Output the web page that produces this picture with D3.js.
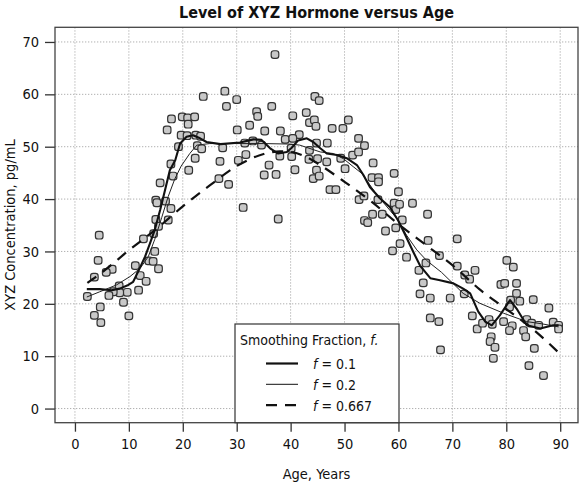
<!DOCTYPE html>
<html>
<head>
<meta charset="utf-8">
<script src="https://cdn.jsdelivr.net/npm/d3@7"></script>
<style>
body { margin: 0; background: #fff; }
text { font-family: 'Liberation Sans Narrow', 'DejaVu Sans Condensed', sans-serif; fill: #111; }
</style>
</head>
<body>
<div id="vis"></div>
<script>
var width = 580;
var height = 483;

// observed points (age, hormone level)
var ages = [23.8, 27.8, 28.1, 17.9, 19.9, 20.9, 22.2, 21.0, 17.1, 19.7, 20.8, 22.4, 23.3, 19.2, 22.7,
    23.5, 27.4, 22.3, 26.9, 17.8, 21.1, 37.1, 30.0, 33.7, 33.9, 36.5, 40.4, 42.9, 44.5, 45.3,
    43.5, 44.4, 44.7, 50.7, 47.7, 49.7, 30.1, 32.4, 35.2, 38.1, 41.6, 39.0, 40.4, 52.6, 53.7,
    46.8, 31.5, 33.0, 34.6, 40.1, 44.8, 38.0, 40.2, 31.7, 30.3, 43.5, 43.4, 45.0, 46.7, 49.3,
    51.5, 52.6, 55.3, 36.0, 50.1, 40.8, 18.2, 15.8, 26.7, 28.5, 15.0, 16.8, 15.2, 17.8, 17.3,
    15.0, 15.5, 14.6, 4.5, 12.7, 14.8, 4.3, 13.7, 14.5, 15.5, 6.9, 5.8, 3.6, 11.2, 12.1,
    13.2, 8.2, 11.8, 9.7, 8.3, 7.1, 6.3, 2.3, 9.0, 4.7, 3.6, 4.8, 10.0, 35.1, 37.3,
    44.8, 44.2, 45.3, 47.3, 48.4, 55.1, 56.3, 56.3, 59.2, 60.0, 31.2, 37.7, 52.7, 53.6, 56.2,
    59.2, 59.5, 55.2, 57.0, 53.7, 54.3, 59.5, 57.6, 60.3, 58.9, 60.2, 62.6, 65.4, 60.7, 70.9,
    65.5, 67.6, 61.5, 65.1, 70.9, 74.2, 63.8, 72.3, 73.2, 64.6, 80.1, 81.3, 79.0, 79.7, 81.9,
    64.0, 65.9, 69.6, 72.2, 81.9, 80.8, 82.5, 85.0, 87.9, 80.6, 65.9, 67.5, 73.7, 74.6, 75.6,
    76.8, 77.4, 79.5, 81.1, 80.6, 83.8, 83.2, 83.6, 84.7, 86.0, 88.7, 89.7, 89.7, 77.2, 77.0,
    77.9, 77.6, 85.2, 67.8, 84.2, 86.9];
var levels = [59.6, 60.6, 57.7, 55.3, 55.7, 55.5, 55.7, 54.3, 53.2, 52.2, 52.1, 52.2, 52.0, 50.0, 50.2,
    49.6, 49.8, 47.8, 47.2, 46.7, 45.5, 67.6, 59.0, 56.7, 55.8, 57.7, 55.9, 56.5, 59.6, 58.8,
    54.6, 55.1, 53.9, 55.1, 53.5, 53.5, 53.2, 54.1, 53.0, 53.0, 52.3, 51.4, 51.6, 51.6, 50.2,
    50.7, 50.7, 51.1, 50.3, 49.7, 50.7, 48.2, 48.1, 48.5, 47.4, 49.3, 47.6, 47.7, 47.1, 47.8,
    48.4, 49.0, 46.9, 46.5, 45.8, 45.6, 44.4, 43.1, 43.9, 42.8, 39.8, 39.6, 39.3, 38.2, 36.0,
    36.1, 34.8, 33.4, 33.1, 32.4, 30.0, 28.3, 28.2, 28.1, 26.7, 26.6, 26.0, 25.1, 27.3, 25.4,
    24.3, 23.4, 22.6, 22.2, 22.1, 22.3, 21.6, 21.4, 20.3, 19.4, 17.8, 16.4, 17.7, 44.6, 44.7,
    45.5, 43.9, 44.4, 41.8, 41.8, 44.1, 44.1, 43.3, 44.9, 41.4, 38.4, 36.2, 39.9, 40.6, 39.9,
    39.2, 38.0, 37.1, 37.1, 35.9, 35.5, 34.5, 33.9, 31.5, 30.1, 39.0, 39.2, 37.1, 36.0, 32.4,
    32.1, 29.2, 28.9, 27.8, 27.2, 26.4, 26.4, 25.5, 24.7, 24.0, 28.3, 27.0, 23.7, 23.9, 23.9,
    21.9, 21.1, 21.1, 21.9, 22.0, 20.7, 20.5, 20.8, 19.2, 19.4, 17.3, 16.6, 17.7, 15.2, 16.3,
    17.0, 16.1, 16.6, 15.8, 14.9, 17.0, 14.9, 13.7, 16.3, 15.9, 16.5, 15.9, 15.2, 13.7, 12.8,
    11.7, 9.6, 11.5, 11.2, 8.2, 6.3];

// smoothed curves
var f1_age = [2.2, 4.6, 6.8, 8.3, 9.9, 10.8, 11.7, 13.0, 13.9, 14.8, 15.8, 16.7, 17.6, 18.6, 19.5,
    20.7, 21.9, 23.2, 24.4, 27.0, 30.6, 33.1, 34.6, 36.2, 37.7, 39.3, 40.2, 41.4, 43.0, 44.2,
    45.5, 46.7, 48.6, 50.4, 52.3, 53.5, 54.7, 56.6, 58.4, 60.0, 61.2, 62.8, 64.0, 65.9, 67.7,
    70.2, 72.0, 73.3, 74.8, 76.1, 77.3, 78.8, 80.7, 81.9, 83.8, 86.3, 88.7, 89.7];
var f1_level = [22.8, 22.8, 22.6, 22.9, 23.6, 24.2, 26.1, 29.0, 31.5, 34.1, 37.9, 41.7, 45.5, 47.4, 50.6,
    51.9, 52.2, 51.6, 50.9, 50.5, 50.8, 51.4, 51.3, 49.7, 48.7, 49.0, 49.8, 51.2, 51.6, 50.9,
    49.7, 48.7, 48.4, 47.8, 46.5, 44.6, 42.3, 40.1, 38.5, 35.8, 33.3, 29.8, 27.3, 24.9, 24.5,
    23.9, 22.9, 22.0, 18.5, 16.6, 15.9, 17.8, 20.7, 19.1, 15.9, 15.3, 15.9, 15.9];

var f2_age = [2.2, 4.6, 7.7, 10.2, 12.1, 13.6, 14.8, 16.1, 17.3, 18.5, 19.7, 21.3, 22.6, 25, 30,
    35, 40, 41.7, 45.5, 47.9, 49.8, 51.6, 53.2, 56.0, 59.7, 61.5, 63.4, 65.2, 68, 72.0,
    75.1, 79.5, 83.8, 86.5, 89.7];
var f2_level = [21.3, 22.3, 23.6, 25.2, 26.8, 29.0, 32.3, 36.5, 40.5, 43.8, 46.3, 48.7, 50.3, 50.6, 50.6,
    50.6, 50.5, 50.3, 49.0, 48.7, 47.7, 46.2, 44.9, 40.8, 36.3, 33.1, 30.3, 28.3, 26.0, 22.0,
    20.1, 18.2, 16.6, 16.2, 15.6];

var f3_age = [2.3, 5, 10, 15, 20, 25, 30, 35, 38, 40, 43, 45, 50, 55, 60, 65, 70, 75, 80, 85, 90];
var f3_level = [24.0, 26.0, 30.2, 34.2, 38.6, 42.6, 46.3, 48.6, 49.1, 49.0, 48.0, 46.8, 43.3, 39.5, 35.2,
    31.3, 27.4, 22.8, 19.0, 15.1, 10.4];

var x_ticks = [0, 10, 20, 30, 40, 50, 60, 70, 80, 90];
var y_ticks = [0, 10, 20, 30, 40, 50, 60, 70];
var legend_values = ['0.1', '0.2', '0.667'];

var plot = {left: 55, right: 578, top: 27.3, bottom: 422.7};

var svg = d3.select('#vis')
    .append('svg')
    .attr('width', width)
    .attr('height', height);

var x_scale = d3.scaleLinear()
    .domain([-3.7, 93.3])
    .range([plot.left, plot.right]);

var y_scale = d3.scaleLinear()
    .domain([-2.7, 72.8])
    .range([plot.bottom, plot.top]);

// grid
svg.append('g')
    .selectAll('line')
    .data(x_ticks)
    .enter()
    .append('line')
    .attr('x1', function(d) { return x_scale(d); })
    .attr('x2', function(d) { return x_scale(d); })
    .attr('y1', plot.top)
    .attr('y2', plot.bottom)
    .attr('stroke', '#b0b0b0')
    .attr('stroke-width', 1)
    .attr('stroke-dasharray', '1.3,1.7');

svg.append('g')
    .selectAll('line')
    .data(y_ticks)
    .enter()
    .append('line')
    .attr('y1', function(d) { return y_scale(d); })
    .attr('y2', function(d) { return y_scale(d); })
    .attr('x1', plot.left)
    .attr('x2', plot.right)
    .attr('stroke', '#b0b0b0')
    .attr('stroke-width', 1)
    .attr('stroke-dasharray', '1.3,1.7');

var x_axis = d3.axisBottom(x_scale).tickValues(x_ticks).tickSize(9).tickPadding(7);
var y_axis = d3.axisLeft(y_scale).tickValues(y_ticks).tickSize(10).tickPadding(6);

var gx = svg.append('g')
    .attr('transform', 'translate(0,' + plot.bottom + ')')
    .call(x_axis);
var gy = svg.append('g')
    .attr('transform', 'translate(' + plot.left + ',0)')
    .call(y_axis);

[gx, gy].forEach(function(g) {
    g.select('.domain').remove();
    g.selectAll('.tick line').attr('stroke', '#333').attr('stroke-width', 1.3);
    g.selectAll('.tick text')
        .attr('fill', '#111')
        .style('font-size', '14.5px')
        .style('font-family', "'Liberation Sans Narrow', 'DejaVu Sans Condensed', sans-serif");
});

// points
var pts = ages.map(function(a, i) { return {age: a, level: levels[i]}; });

svg.append('g')
    .selectAll('rect')
    .data(pts)
    .enter()
    .append('rect')
    .attr('x', function(d) { return x_scale(d.age) - 3.8; })
    .attr('y', function(d) { return y_scale(d.level) - 3.8; })
    .attr('width', 7.6)
    .attr('height', 7.6)
    .attr('rx', 2.6)
    .attr('fill', '#c8c8c8')
    .attr('stroke', '#333')
    .attr('stroke-width', 1.2);

// smooth lines
var line = d3.line()
    .x(function(d) { return x_scale(d[0]); })
    .y(function(d) { return y_scale(d[1]); });

function zip(a, b) {
    return a.map(function(v, i) { return [v, b[i]]; });
}

svg.append('path')
    .attr('d', line.curve(d3.curveMonotoneX)(zip(f3_age, f3_level)))
    .attr('fill', 'none')
    .attr('stroke', '#111')
    .attr('stroke-width', 2.2)
    .attr('stroke-dasharray', '11,8');

svg.append('path')
    .attr('d', line.curve(d3.curveLinear)(zip(f2_age, f2_level)))
    .attr('fill', 'none')
    .attr('stroke', '#222')
    .attr('stroke-width', 1);

svg.append('path')
    .attr('d', line.curve(d3.curveLinear)(zip(f1_age, f1_level)))
    .attr('fill', 'none')
    .attr('stroke', '#111')
    .attr('stroke-width', 2.1)
    .attr('stroke-linejoin', 'round');

// frame
svg.append('rect')
    .attr('x', plot.left)
    .attr('y', plot.top)
    .attr('width', plot.right - plot.left)
    .attr('height', plot.bottom - plot.top)
    .attr('fill', 'none')
    .attr('stroke', '#444')
    .attr('stroke-width', 1.3);

// legend
var legend = svg.append('g')
    .attr('transform', 'translate(235,324)');

legend.append('rect')
    .attr('width', 164)
    .attr('height', plot.bottom - 324)
    .attr('fill', '#fff')
    .attr('stroke', '#333')
    .attr('stroke-width', 1.2);

var lt = legend.append('text')
    .attr('x', 5)
    .attr('y', 21)
    .style('font-size', '14px');
lt.append('tspan').text('Smoothing Fraction, ');
lt.append('tspan').style('font-style', 'italic').text('f.');

var styles = [
    {w: 2.2, dash: null},
    {w: 1, dash: null},
    {w: 2.4, dash: '11,8'}
];

var rows = legend.selectAll('.row')
    .data(legend_values)
    .enter()
    .append('g')
    .attr('class', 'row')
    .attr('transform', function(d, i) { return 'translate(0,' + (39.5 + i * 20.8) + ')'; });

rows.append('line')
    .attr('x1', 31)
    .attr('x2', 63)
    .attr('stroke', '#111')
    .attr('stroke-width', function(d, i) { return styles[i].w; })
    .attr('stroke-dasharray', function(d, i) { return styles[i].dash; });

var rt = rows.append('text')
    .attr('x', 78)
    .attr('y', 5.5)
    .style('font-size', '14px');
rt.append('tspan').style('font-style', 'italic').text('f');
rt.append('tspan').text(function(d) { return ' = ' + d; });

// titles
svg.append('text')
    .attr('x', (plot.left + plot.right) / 2)
    .attr('y', 18)
    .attr('text-anchor', 'middle')
    .style('font-size', '16px')
    .style('font-weight', 'bold')
    .text('Level of XYZ Hormone versus Age');

svg.append('text')
    .attr('x', (plot.left + plot.right) / 2)
    .attr('y', 479)
    .attr('text-anchor', 'middle')
    .style('font-size', '14.5px')
    .text('Age, Years');

svg.append('text')
    .attr('transform', 'translate(15,' + (plot.top + plot.bottom) / 2 + ') rotate(-90)')
    .attr('text-anchor', 'middle')
    .style('font-size', '14.5px')
    .text('XYZ Concentration, pg/mL');
</script>
</body>
</html>
